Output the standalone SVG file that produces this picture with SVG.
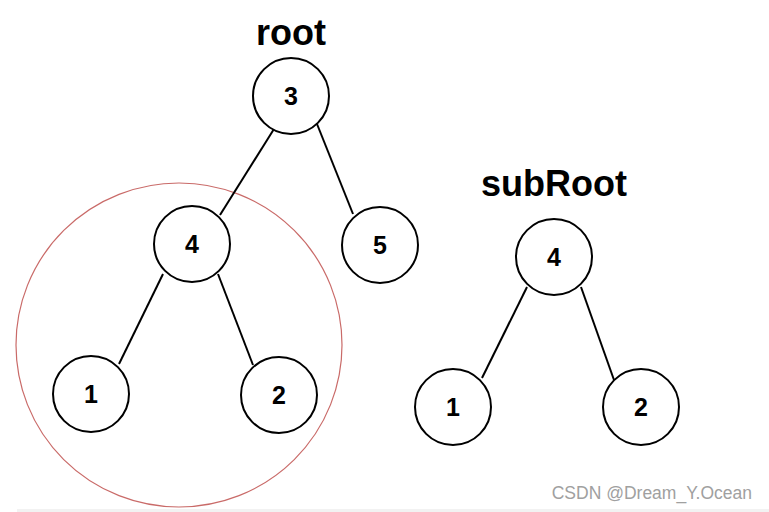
<svg xmlns="http://www.w3.org/2000/svg" width="769" height="512" viewBox="0 0 769 512">
<style>
.n{fill:#fff;stroke:#000;stroke-width:2}
.t{font-family:"Liberation Sans",Arial,sans-serif;font-weight:bold;font-size:25px;text-anchor:middle;fill:#000}
.c line{stroke:#000;stroke-width:2}
.h{font-family:"Liberation Sans",Arial,sans-serif;font-weight:bold;font-size:36px;text-anchor:middle;fill:#000}
</style>
<rect width="769" height="512" fill="#fff"/>
<rect x="17" y="509" width="752" height="3" fill="#f2f2f2"/>
<ellipse id="highlight" cx="179" cy="345" rx="163" ry="162" fill="none" stroke="#c0504d" stroke-width="1.2" opacity="0.85"/>
<text class="h" x="291" y="45">root</text>
<text class="h" x="554" y="196">subRoot</text>
<g class="c" id="connectors">
<line x1="274" y1="129" x2="220" y2="215"/>
<line x1="317" y1="124" x2="353" y2="214"/>
<line x1="163" y1="274" x2="119" y2="364"/>
<line x1="218" y1="274" x2="253" y2="365"/>
<line x1="527" y1="287" x2="482" y2="378"/>
<line x1="581" y1="287" x2="614" y2="380"/>
</g>
<g id="n3"><circle class="n" cx="291" cy="96" r="38"/><text class="t" x="291" y="105">3</text></g>
<g id="n4"><circle class="n" cx="192" cy="244" r="38"/><text class="t" x="192" y="253">4</text></g>
<g id="n5"><circle class="n" cx="380" cy="245" r="38"/><text class="t" x="380" y="254">5</text></g>
<g id="n1"><circle class="n" cx="91" cy="394" r="38"/><text class="t" x="91" y="403">1</text></g>
<g id="n2"><circle class="n" cx="279" cy="395" r="38"/><text class="t" x="279" y="404">2</text></g>
<g id="s4"><circle class="n" cx="554" cy="257" r="38"/><text class="t" x="554" y="266">4</text></g>
<g id="s1"><circle class="n" cx="453" cy="407" r="38"/><text class="t" x="453" y="416">1</text></g>
<g id="s2"><circle class="n" cx="641" cy="407" r="38"/><text class="t" x="641" y="416">2</text></g>
<text x="752" y="499" font-family="'Liberation Sans',Arial,sans-serif" font-size="17.5" fill="#a0a0a0" text-anchor="end">CSDN @Dream_Y.Ocean</text>
</svg>
